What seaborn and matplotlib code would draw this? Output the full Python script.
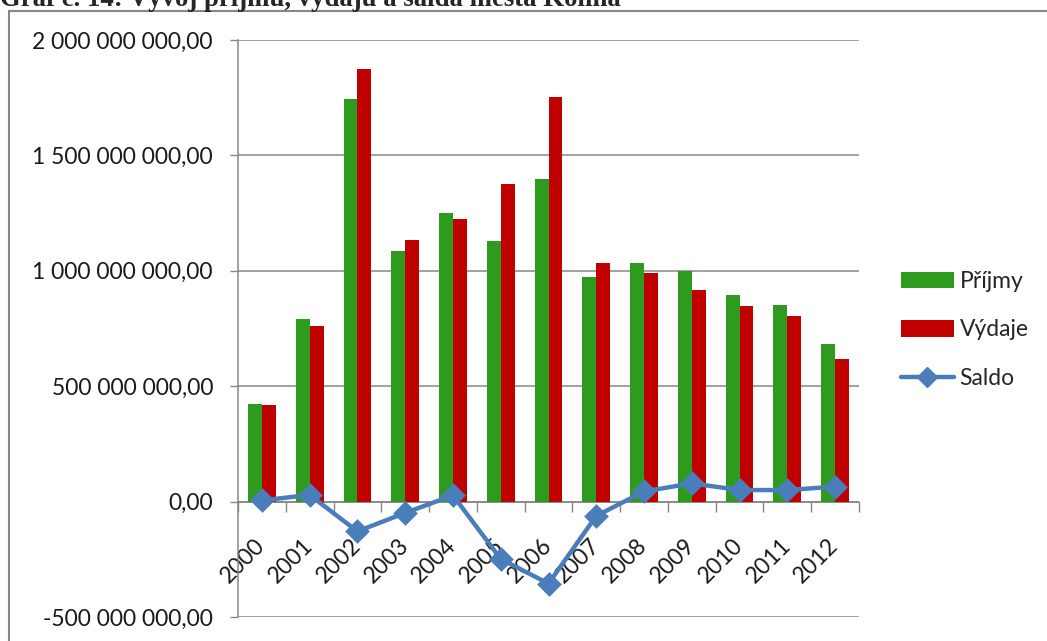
import matplotlib
matplotlib.use("Agg")
import matplotlib.pyplot as plt
from matplotlib.patches import Patch, Rectangle
from matplotlib.lines import Line2D
from matplotlib.ticker import FixedLocator
import seaborn as sns
import pandas as pd

# Municipal budget of Kolín, 2000-2012 (CZK)
years = ["2000", "2001", "2002", "2003", "2004", "2005", "2006",
         "2007", "2008", "2009", "2010", "2011", "2012"]
prijmy = [424e6, 791e6, 1746e6, 1085e6, 1251e6, 1129e6, 1397e6,
          973e6, 1034e6, 997e6, 896e6, 852e6, 684e6]
vydaje = [419e6, 762e6, 1875e6, 1134e6, 1224e6, 1378e6, 1752e6,
          1035e6, 990e6, 918e6, 846e6, 802e6, 619e6]
saldo = [5e6, 29e6, -129e6, -49e6, 27e6, -249e6, -355e6,
         -62e6, 44e6, 79e6, 50e6, 50e6, 65e6]

series_names = ["Příjmy", "Výdaje", "Saldo"]
y_ticks = [-500e6, 0, 500e6, 1000e6, 1500e6, 2000e6]
y_tick_labels = ["-500 000 000,00", "0,00", "500 000 000,00",
                 "1 000 000 000,00", "1 500 000 000,00", "2 000 000 000,00"]
title = "Graf č. 14: Vývoj příjmů, výdajů a salda města Kolína"

GREEN = "#2F9B1E"
RED = "#C00000"
BLUE = "#4A7EBB"
GREY = "#878787"
TEXT = "#1a1a1a"

sns.set_style("white")
plt.rcParams["font.family"] = ["Lato", "DejaVu Sans"]

W, H = 1047, 641
fig = plt.figure(figsize=(W / 100, H / 100), dpi=100)
ax = fig.add_axes([238 / W, 1 - 617 / H, (859 - 238) / W, (617 - 40) / H])

df = pd.DataFrame({
    "rok": years * 2,
    "hodnota": prijmy + vydaje,
    "řada": [series_names[0]] * len(years) + [series_names[1]] * len(years),
})
sns.barplot(data=df, x="rok", y="hodnota", hue="řada", order=years,
            hue_order=series_names[:2], palette=[GREEN, RED],
            width=0.58, gap=0, linewidth=0, saturation=1, legend=False,
            ax=ax, zorder=3)
sns.pointplot(x=years, y=saldo, order=years, color=BLUE, markers="D",
              markersize=10, linewidth=3.2, errorbar=None, ax=ax, zorder=4)

ax.set_xlim(-0.5, len(years) - 0.5)
ax.set_ylim(y_ticks[0], y_ticks[-1])
ax.set_xlabel("")
ax.set_ylabel("")

# value axis
ax.set_yticks(y_ticks)
ax.set_yticklabels(y_tick_labels, fontsize=16.5, color=TEXT)
ax.tick_params(axis="y", length=6, width=1, color=GREY, pad=12, left=True)
ax.grid(axis="y", color=GREY, linewidth=1.1, zorder=0)
ax.set_axisbelow(True)

# category axis sits on the zero line
for side in ["top", "right"]:
    ax.spines[side].set_visible(False)
ax.spines["left"].set_color(GREY)
ax.spines["left"].set_linewidth(1.1)
ax.spines["bottom"].set_position(("data", 0))
ax.spines["bottom"].set_color(GREY)
ax.spines["bottom"].set_linewidth(1.1)
ax.set_xticks(range(len(years)))
ax.xaxis.set_minor_locator(FixedLocator([i - 0.5 for i in range(len(years) + 1)]))
ax.tick_params(axis="x", which="major", length=0, pad=29, bottom=True)
ax.tick_params(axis="x", which="minor", length=7, width=1, color=GREY, bottom=True)
ax.set_xticklabels(years, fontsize=16.5, color=TEXT, rotation=45,
                   ha="right", va="center", rotation_mode="anchor")

# legend
handles = [
    Patch(facecolor=GREEN, edgecolor="none"),
    Patch(facecolor=RED, edgecolor="none"),
    Line2D([], [], color=BLUE, linewidth=3.2, marker="D", markersize=10),
]
fig.legend(handles, series_names, loc="center left",
           bbox_to_anchor=(901 / W, 1 - 330 / H), frameon=False,
           fontsize=16.5, handlelength=2.3, handleheight=0.7,
           handletextpad=0.25, labelspacing=1.2, borderpad=0,
           borderaxespad=0)

# chart frame and caption
fig.patches.append(Rectangle((9 / W, -0.2), 1.2, 1.2 - 11 / H,
                             transform=fig.transFigure, fill=False,
                             edgecolor=GREY, linewidth=1.5, clip_on=False))
fig.text(0.0, 1 - 6 / H, title, family=["Liberation Serif", "DejaVu Serif"],
         fontweight="bold", fontsize=19.3, va="baseline", ha="left")

fig.savefig("out.png", dpi=100)
